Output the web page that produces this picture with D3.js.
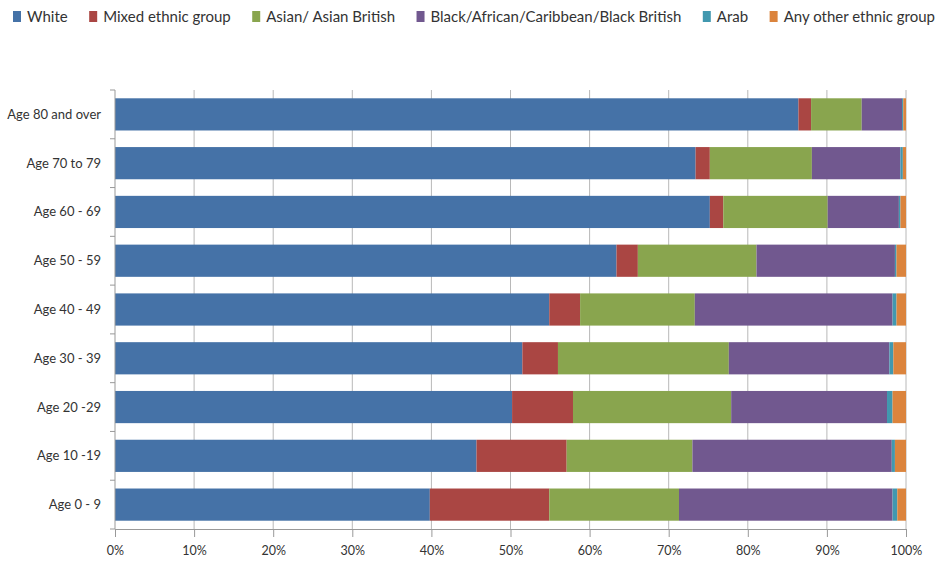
<!DOCTYPE html>
<html>
<head>
<meta charset="utf-8">
<script src="https://cdn.jsdelivr.net/npm/d3@7"></script>
<style>
  body { margin: 0; background: #fff; }
  text { font-family: Lato, "Open Sans", sans-serif; fill: #333; }
</style>
</head>
<body>
<div id="chart"></div>
<script>
// age groups, top to bottom
var ages = ['Age 80 and over', 'Age 70 to 79', 'Age 60 - 69', 'Age 50 - 59', 'Age 40 - 49',
            'Age 30 - 39', 'Age 20 -29', 'Age 10 -19', 'Age 0 - 9'];
var groups = ['White', 'Mixed ethnic group', 'Asian/ Asian British',
              'Black/African/Caribbean/Black British', 'Arab', 'Any other ethnic group'];
var colors = ['#4572A7', '#AA4643', '#89A54E', '#71588F', '#4198AF', '#DB843D'];

// percentages per age group (same order as ages)
var white  = [86.4, 73.4, 75.2, 63.4, 54.9, 51.5, 50.2, 45.7, 39.8];
var mixed  = [1.6, 1.8, 1.7, 2.7, 3.9, 4.5, 7.7, 11.4, 15.1];
var asian  = [6.4, 12.9, 13.2, 15.0, 14.5, 21.6, 20.0, 15.9, 16.4];
var black  = [5.1, 11.2, 9.0, 17.5, 25.0, 20.3, 19.7, 25.2, 27.0];
var arab   = [0.15, 0.3, 0.2, 0.2, 0.5, 0.5, 0.7, 0.4, 0.6];
var other  = [0.35, 0.4, 0.7, 1.2, 1.2, 1.6, 1.7, 1.4, 1.1];
var xTicks = [0, 0.1, 0.2, 0.3, 0.4, 0.5, 0.6, 0.7, 0.8, 0.9, 1];

var width = 944, height = 561;
var margin = {top: 90, right: 38, bottom: 32, left: 115};

var svg = d3.select('#chart').append('svg')
    .attr('width', width)
    .attr('height', height);

var rows = ages.map(function(a, i) {
  var total = white[i] + mixed[i] + asian[i] + black[i] + arab[i] + other[i];
  var r = {age: a};
  [white, mixed, asian, black, arab, other].forEach(function(s, k) {
    r[groups[k]] = s[i] / total;
  });
  return r;
});

var stack = d3.stack().keys(groups)(rows);

var x = d3.scaleLinear().domain([0, 1])
    .range([margin.left, width - margin.right]);
var y = d3.scaleBand().domain(ages)
    .range([margin.top, height - margin.bottom])
    .paddingInner(0.34).paddingOuter(0.17);

// gridlines
svg.append('g')
    .selectAll('line')
    .data(xTicks.slice(1))
    .enter().append('line')
    .attr('x1', function(d) { return x(d); })
    .attr('x2', function(d) { return x(d); })
    .attr('y1', margin.top)
    .attr('y2', height - margin.bottom)
    .attr('stroke', '#b8b8b8')
    .attr('stroke-width', 1);

// bars
svg.append('g')
    .selectAll('g')
    .data(stack)
    .enter().append('g')
    .attr('fill', function(d, i) { return colors[i]; })
    .selectAll('rect')
    .data(function(d) { return d; })
    .enter().append('rect')
    .attr('x', function(d) { return x(d[0]); })
    .attr('width', function(d) { return x(d[1]) - x(d[0]); })
    .attr('y', function(d) { return y(d.data.age); })
    .attr('height', y.bandwidth());

// x axis
var xAxis = svg.append('g')
    .attr('transform', 'translate(0,' + (height - margin.bottom) + ')')
    .call(d3.axisBottom(x).tickValues(xTicks).tickFormat(d3.format('.0%')).tickSize(8).tickPadding(9));
xAxis.select('.domain').attr('stroke', '#999');
xAxis.selectAll('.tick line').attr('stroke', '#999');
xAxis.selectAll('text').attr('font-size', 12.5).attr('fill', '#333')
    .style('font-family', 'Lato, sans-serif');

// y axis with ticks between categories
var yAxisG = svg.append('g')
    .attr('transform', 'translate(' + margin.left + ',0)');
yAxisG.append('line')
    .attr('x1', 0).attr('x2', 0)
    .attr('y1', margin.top).attr('y2', height - margin.bottom)
    .attr('stroke', '#999');
var bounds = d3.range(ages.length + 1).map(function(i) { return margin.top + i * (height - margin.top - margin.bottom) / ages.length; });
yAxisG.selectAll('line.tk')
    .data(bounds)
    .enter().append('line')
    .attr('class', 'tk')
    .attr('x1', -5).attr('x2', 0)
    .attr('y1', function(d) { return d; })
    .attr('y2', function(d) { return d; })
    .attr('stroke', '#999');
yAxisG.selectAll('text')
    .data(ages)
    .enter().append('text')
    .attr('x', -14)
    .attr('y', function(d) { return y(d) + y.bandwidth() / 2; })
    .attr('dy', '0.35em')
    .attr('text-anchor', 'end')
    .attr('font-size', 13)
    .text(function(d) { return d; });

// legend
var legend = svg.append('g').attr('transform', 'translate(13,17)');
var lx = 0;
groups.forEach(function(g, i) {
  var item = legend.append('g').attr('transform', 'translate(' + lx + ',0)');
  item.append('rect')
      .attr('x', 0).attr('y', -6)
      .attr('width', 8).attr('height', 11)
      .attr('fill', colors[i]);
  var t = item.append('text')
      .attr('x', 14).attr('y', 0)
      .attr('dy', '0.35em')
      .attr('font-size', 15)
      .text(g);
  lx += 14 + t.node().getComputedTextLength() + 21.5;
});
</script>
</body>
</html>
